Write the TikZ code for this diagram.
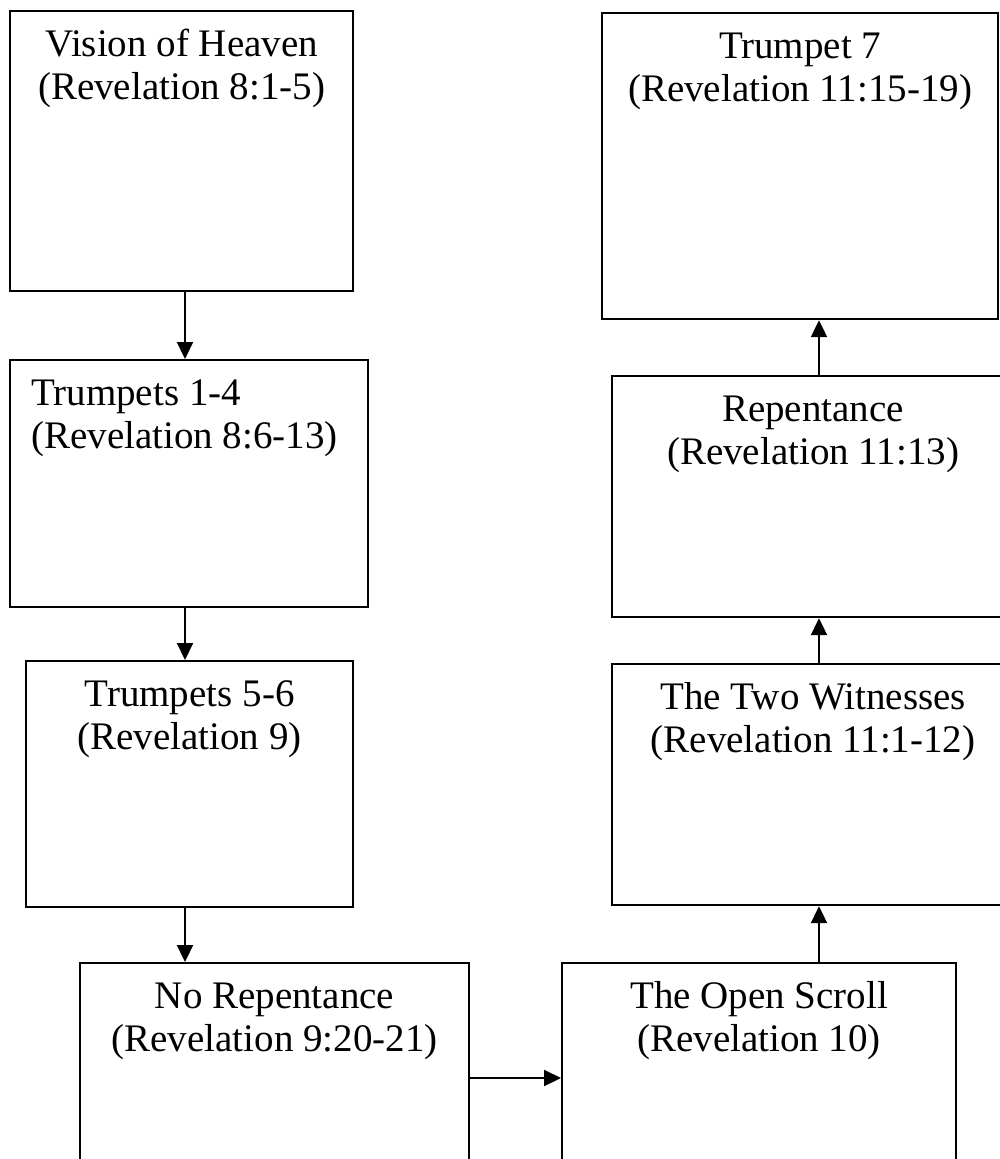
\documentclass[tikz,border=0pt]{standalone}
\usepackage{fontspec}
\setmainfont{Liberation Serif}
\usetikzlibrary{arrows.meta,calc}
\begin{document}
\begin{tikzpicture}[x=1pt,y=-1pt,
  box/.style={draw=black,line width=2.2pt,inner sep=0pt,anchor=north west},
  lbl/.style={font=\fontsize{39}{43}\selectfont,inner sep=0pt,align=center,anchor=base},
  conn/.style={line width=2.2pt,-{Triangle[length=17pt,width=16pt]}}]
\useasboundingbox (0,0) rectangle (1000,1159);
\clip (0,0) rectangle (1000,1159);
% boxes
\node[box,minimum width=343pt,minimum height=280pt] (b1) at (9,10) {};
\node[box,minimum width=358pt,minimum height=247pt] (b2) at (9,359) {};
\node[box,minimum width=327pt,minimum height=246pt] (b3) at (25,660) {};
\node[box,minimum width=389pt,minimum height=250pt] (b4) at (79,962) {};
\node[box,minimum width=394pt,minimum height=250pt] (b5) at (561,962) {};
\node[box,minimum width=402pt,minimum height=241pt] (b6) at (611,663) {};
\node[box,minimum width=402pt,minimum height=241pt] (b7) at (611,375) {};
\node[box,minimum width=396pt,minimum height=306pt] (b8) at (601,12) {};
% labels (anchor base = baseline of the last line)
\node[lbl] (t1) at ($(b1.north)+(0,89)$) {Vision of Heaven\\(Revelation 8:1-5)};
\node[lbl,align=left,anchor=base west] (t2) at ($(b2.north west)+(22,89)$) {Trumpets 1-4\\(Revelation 8:6-13)};
\node[lbl] (t3) at ($(b3.north)+(0,89)$) {Trumpets 5-6\\(Revelation 9)};
\node[lbl] (t4) at ($(b4.north)+(0,89)$) {No Repentance\\(Revelation 9:20-21)};
\node[lbl] (t5) at ($(b5.north)+(0,89)$) {The Open Scroll\\(Revelation 10)};
\node[lbl] (t6) at ($(b6.north)+(0,89)$) {The Two Witnesses\\(Revelation 11:1-12)};
\node[lbl] (t7) at ($(b7.north)+(0,89)$) {Repentance\\(Revelation 11:13)};
\node[lbl] (t8) at ($(b8.north)+(0,89)$) {Trumpet 7\\(Revelation 11:15-19)};
% connector guides
\coordinate (cl) at (185,0);
\coordinate (cr) at (819,0);
\coordinate (ch) at (0,1078);
\draw[conn] (b1.south -| cl) -- (b2.north -| cl);
\draw[conn] (b2.south -| cl) -- (b3.north -| cl);
\draw[conn] (b3.south -| cl) -- (b4.north -| cl);
\draw[conn] (b4.east |- ch) -- (b5.west |- ch);
\draw[conn] (b5.north -| cr) -- (b6.south -| cr);
\draw[conn] (b6.north -| cr) -- (b7.south -| cr);
\draw[conn] (b7.north -| cr) -- (b8.south -| cr);
\end{tikzpicture}
\end{document}
